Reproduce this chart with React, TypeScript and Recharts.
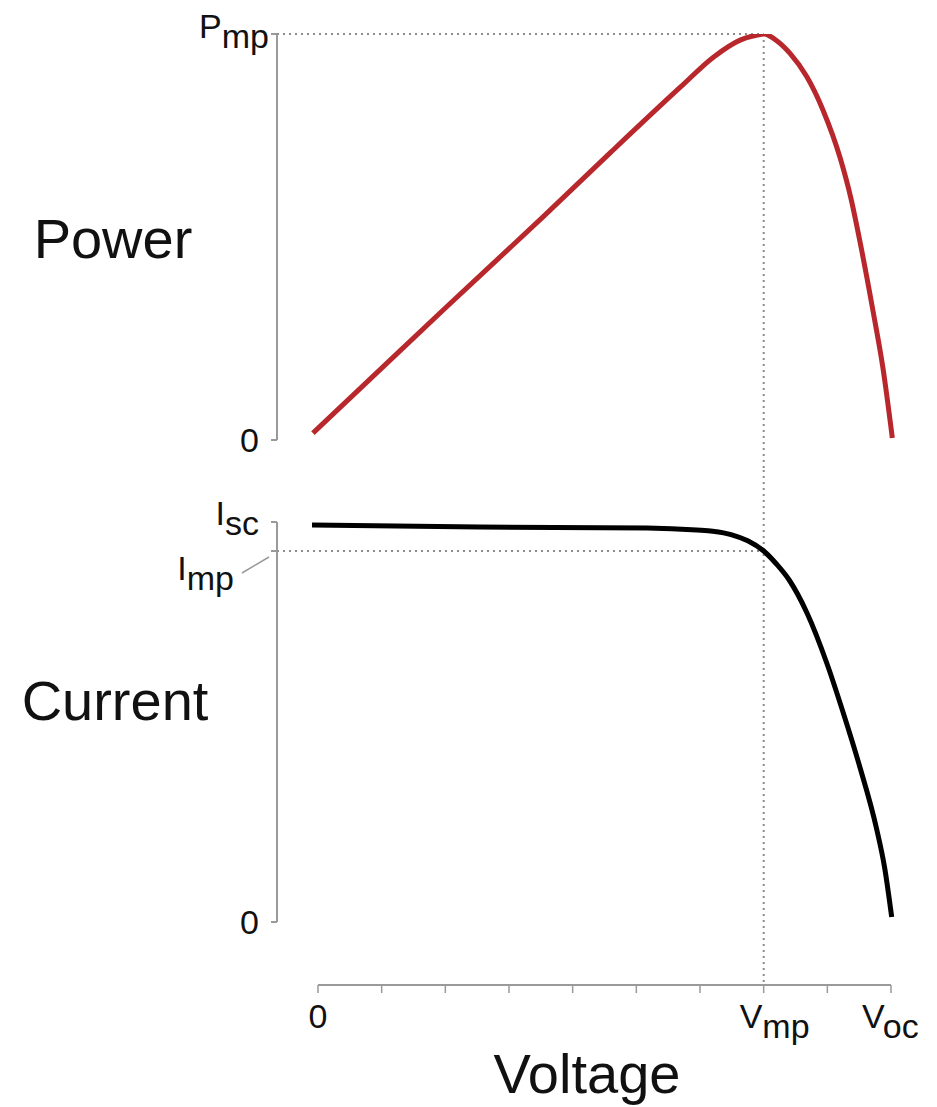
import React from "react";
import { LineChart, Line, XAxis, YAxis, ReferenceLine } from "recharts";

// ---- data (voltage in tick units, Vmp = 7, Voc = 9) ----
const powerVoltage = [-0.08, 1.0, 2.0, 3.53, 4.6, 5.69, 6.21, 6.63, 6.9, 7.0, 7.21, 7.41, 7.68, 7.93, 8.2, 8.37, 8.51, 8.72, 8.87, 9.02];
const powerValues = [1.7, 17.7, 32.5, 54.9, 70.9, 86.9, 94.3, 98.5, 99.75, 100, 98.3, 95.3, 89.4, 81.3, 69.5, 59.5, 49, 31.5, 18, 0.5];

const currentVoltage = [-0.094, 2.54, 5.17, 5.95, 6.2, 6.5, 6.75, 7.0, 7.2, 7.4, 7.68, 7.99, 8.25, 8.51, 8.77, 8.9, 9.01];
const currentValues = [99.25, 98.75, 98.5, 98, 97.7, 96.8, 95.3, 92.75, 89.5, 85.5, 77.25, 64.75, 52.25, 38.75, 23.5, 13.5, 1.25];

const VMP = 7;
const PMP = 100;
const IMP = 92.75;
const ISC = 100;

const powerTicks = [0, PMP];
const powerTickMain = ["0", "P"];
const powerTickSub = ["", "mp"];

const currentTicks = [0, IMP, ISC];
const currentTickMain = ["0", "I", "I"];
const currentTickSub = ["", "mp", "sc"];

const voltageTicks = [0, 1, 2, 3, 4, 5, 6, 7, 8, 9];
const voltageTickMain = ["0", "", "", "", "", "", "", "V", "", "V"];
const voltageTickSub = ["", "", "", "", "", "", "", "mp", "", "oc"];

const powerData = powerVoltage.map((v, i) => ({ v, p: powerValues[i] }));
const currentData = currentVoltage.map((v, i) => ({ v, c: currentValues[i] }));
const voltageData = [{ v: 0 }, { v: 9 }];

// ---- styling ----
const FONT = "'Liberation Sans', Arial, Helvetica, sans-serif";
const AXIS = "#9a9a9a";
const DOT = "#8c8c8c";
const MAIN_FS = 34;
const SUB_FS = 34;
const TITLE_FS = 56;
const X_MIN = -0.644;
const X_MAX = 9.062;

function PowerTick(props: any) {
  const { x, y, payload } = props;
  const i = powerTicks.indexOf(payload.value);
  if (i < 0) return null;
  if (powerTickSub[i] === "") {
    return (
      <text x={x - 12} y={y + 12} textAnchor="end" fontSize={MAIN_FS} fill="#111" fontFamily={FONT}>
        {powerTickMain[i]}
      </text>
    );
  }
  return (
    <text x={x - 2} y={y + 4} textAnchor="end" fontSize={MAIN_FS} fill="#111" fontFamily={FONT}>
      {powerTickMain[i]}
      <tspan dy={10} fontSize={SUB_FS}>{powerTickSub[i]}</tspan>
    </text>
  );
}

function CurrentTick(props: any) {
  const { x, y, payload } = props;
  const i = currentTicks.indexOf(payload.value);
  if (i < 0) return null;
  if (currentTickSub[i] === "") {
    return (
      <text x={x - 12} y={y + 12} textAnchor="end" fontSize={MAIN_FS} fill="#111" fontFamily={FONT}>
        {currentTickMain[i]}
      </text>
    );
  }
  if (payload.value === IMP) {
    const ax = x + 7;
    return (
      <g>
        <line x1={ax - 36} y1={y + 22} x2={ax - 9} y2={y + 6} stroke={AXIS} strokeWidth={1.5} />
        <text x={ax - 44} y={y + 29} textAnchor="end" fontSize={MAIN_FS} fill="#111" fontFamily={FONT}>
          {currentTickMain[i]}
          <tspan dy={10} fontSize={SUB_FS}>{currentTickSub[i]}</tspan>
        </text>
      </g>
    );
  }
  return (
    <text x={x - 12} y={y + 3} textAnchor="end" fontSize={MAIN_FS} fill="#111" fontFamily={FONT}>
      {currentTickMain[i]}
      <tspan dy={10} fontSize={SUB_FS}>{currentTickSub[i]}</tspan>
    </text>
  );
}

function VoltTick(props: any) {
  const { x, y, payload } = props;
  const i = voltageTicks.indexOf(payload.value);
  if (i < 0 || voltageTickMain[i] === "") return null;
  if (voltageTickSub[i] === "") {
    return (
      <text x={x} y={y + 33} textAnchor="middle" fontSize={MAIN_FS} fill="#111" fontFamily={FONT}>
        {voltageTickMain[i]}
      </text>
    );
  }
  const off = payload.value === 9 ? -29 : -24;
  return (
    <text x={x + off} y={y + 33} textAnchor="start" fontSize={MAIN_FS} fill="#111" fontFamily={FONT}>
      {voltageTickMain[i]}
      <tspan dy={10} fontSize={SUB_FS}>{voltageTickSub[i]}</tspan>
    </text>
  );
}

const title = (text: string, x: number, y: number) => () => (
  <text x={x} y={y} textAnchor="middle" fontSize={TITLE_FS} fill="#111" fontFamily={FONT}>
    {text}
  </text>
);

export default function App() {
  return (
    <div style={{ position: "absolute", left: 0, top: 0, width: 937, height: 1107, background: "#fff", fontFamily: FONT }}>
      {/* Power panel */}
      <div style={{ position: "absolute", left: 0, top: 0 }}>
        <LineChart width={937} height={470} data={powerData} margin={{ top: 34, right: 42, bottom: 30, left: 0 }}>
          <XAxis type="number" dataKey="v" domain={[X_MIN, X_MAX]} hide allowDataOverflow />
          <YAxis
            type="number"
            domain={[0, PMP]}
            ticks={powerTicks}
            interval={0}
            width={277}
            allowDataOverflow
            axisLine={{ stroke: AXIS, strokeWidth: 2 }}
            tickLine={{ stroke: AXIS, strokeWidth: 2 }}
            tickSize={6}
            tickMargin={0}
            tick={<PowerTick />}
            label={{ content: title("Power", 113, 258) }}
          />
          <ReferenceLine
            segment={[{ x: X_MIN, y: PMP }, { x: VMP, y: PMP }]}
            stroke={DOT}
            strokeWidth={2}
            strokeDasharray="2 4"
            ifOverflow="visible"
          />
          <ReferenceLine
            segment={[{ x: VMP, y: PMP }, { x: VMP, y: -7.4 }]}
            stroke={DOT}
            strokeWidth={2}
            strokeDasharray="2 4"
            ifOverflow="visible"
          />
          <Line
            type="monotone"
            dataKey="p"
            stroke="#b8272c"
            strokeWidth={5}
            dot={false}
            activeDot={false}
            isAnimationActive={false}
          />
        </LineChart>
      </div>

      {/* Current panel */}
      <div style={{ position: "absolute", left: 0, top: 470 }}>
        <LineChart width={937} height={530} data={currentData} margin={{ top: 52, right: 42, bottom: 78, left: 0 }}>
          <XAxis type="number" dataKey="v" domain={[X_MIN, X_MAX]} hide allowDataOverflow />
          <YAxis
            type="number"
            domain={[0, ISC]}
            ticks={currentTicks}
            interval={0}
            width={277}
            allowDataOverflow
            axisLine={{ stroke: AXIS, strokeWidth: 2 }}
            tickLine={{ stroke: AXIS, strokeWidth: 2 }}
            tickSize={6}
            tickMargin={0}
            tick={<CurrentTick />}
            label={{ content: title("Current", 115, 250) }}
          />
          <ReferenceLine
            segment={[{ x: X_MIN, y: IMP }, { x: VMP, y: IMP }]}
            stroke={DOT}
            strokeWidth={2}
            strokeDasharray="2 4"
            ifOverflow="visible"
          />
          <ReferenceLine
            segment={[{ x: VMP, y: 113 }, { x: VMP, y: -15.75 }]}
            stroke={DOT}
            strokeWidth={2}
            strokeDasharray="2 4"
            ifOverflow="visible"
          />
          <Line
            type="monotone"
            dataKey="c"
            stroke="#000"
            strokeWidth={5}
            dot={false}
            activeDot={false}
            isAnimationActive={false}
          />
        </LineChart>
      </div>

      {/* Voltage axis */}
      <div style={{ position: "absolute", left: 0, top: 940 }}>
        <LineChart width={937} height={167} data={voltageData} margin={{ top: 20, right: 46, bottom: 0, left: 318 }}>
          <XAxis
            type="number"
            dataKey="v"
            domain={[0, 9]}
            ticks={voltageTicks}
            interval={0}
            height={122}
            allowDataOverflow
            axisLine={{ stroke: AXIS, strokeWidth: 2 }}
            tickLine={{ stroke: AXIS, strokeWidth: 1.5 }}
            tickSize={8}
            tickMargin={2}
            tick={<VoltTick />}
            label={{ content: title("Voltage", 587, 153) }}
          />
          <YAxis hide domain={[0, 1]} />
        </LineChart>
      </div>
    </div>
  );
}
